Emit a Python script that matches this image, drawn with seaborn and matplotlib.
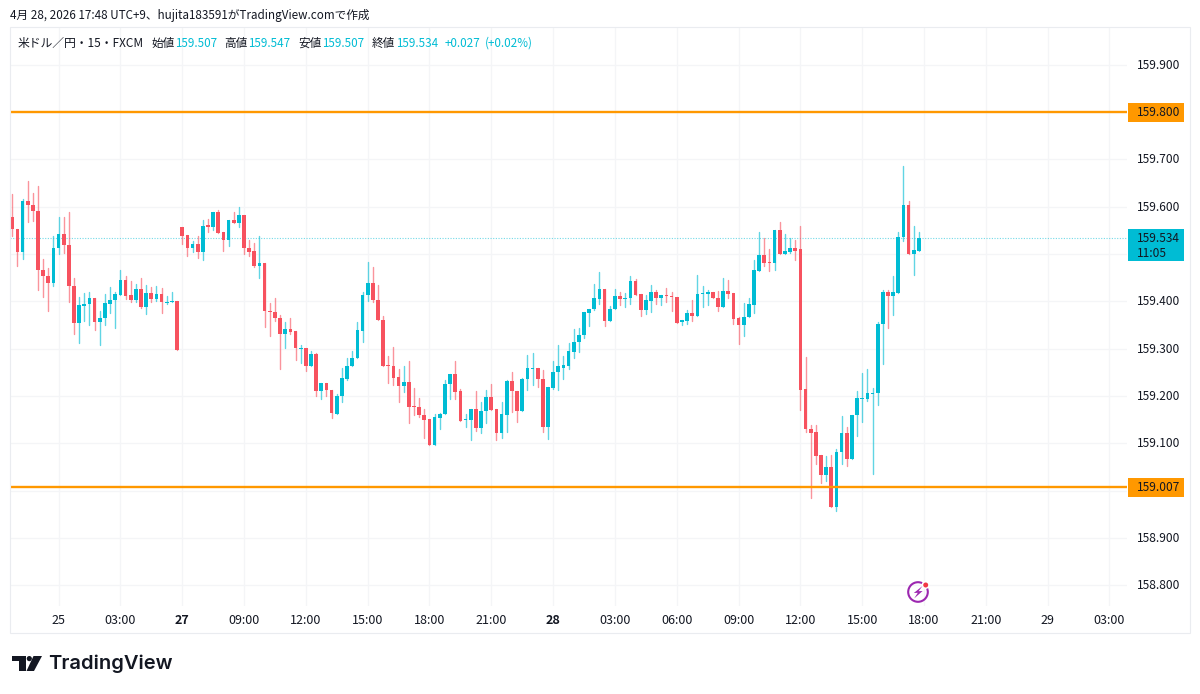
import numpy as np
import pandas as pd
import seaborn as sns
import matplotlib
matplotlib.use("Agg")
import matplotlib.pyplot as plt
from matplotlib.patches import Rectangle, Circle, Polygon
from matplotlib.transforms import blended_transform_factory, ScaledTranslation

# ---------------- data ----------------
opens = [159.579,159.553,159.505,159.613,159.603,159.591,159.466,159.453,159.439,159.513,
159.542,159.519,159.433,159.354,159.391,159.394,159.406,159.356,159.364,159.394,
159.403,159.413,159.446,159.413,159.403,159.426,159.388,159.418,159.405,159.415,
159.397,159.399,159.401,159.556,159.540,159.513,159.521,159.505,159.561,159.558,
159.589,159.546,159.530,159.572,159.566,159.582,159.513,159.506,159.474,159.482,
159.380,159.378,159.365,159.330,159.342,159.337,159.300,159.302,159.264,159.288,
159.211,159.227,159.213,159.163,159.201,159.236,159.263,159.280,159.338,159.413,
159.438,159.403,159.361,159.266,159.264,159.240,159.222,159.230,159.178,159.176,
159.159,159.151,159.096,159.154,159.161,159.225,159.247,159.211,159.149,159.150,
159.172,159.132,159.168,159.197,159.172,159.121,159.160,159.232,159.211,159.168,
159.235,159.258,159.260,159.236,159.135,159.216,159.250,159.260,159.263,159.294,
159.314,159.328,159.376,159.383,159.404,159.427,159.358,159.383,159.411,159.404,
159.407,159.444,159.415,159.381,159.401,159.420,159.406,159.413,159.412,159.410,
159.356,159.358,159.375,159.370,159.415,159.415,159.420,159.408,159.389,159.422,
159.417,159.364,159.351,159.366,159.393,159.465,159.497,159.484,159.480,159.550,
159.501,159.504,159.513,159.510,159.214,159.130,159.123,159.076,159.033,159.050,
158.966,159.081,159.121,159.067,159.159,159.194,159.194,159.205,159.206,159.352,
159.420,159.411,159.418,159.535,159.603,159.501,159.507]
highs = [159.627,159.553,159.616,159.654,159.628,159.644,159.489,159.471,159.539,159.579,
159.579,159.589,159.449,159.409,159.418,159.420,159.406,159.379,159.415,159.430,
159.420,159.466,159.454,159.443,159.437,159.450,159.434,159.430,159.432,159.428,
159.411,159.420,159.401,159.556,159.540,159.527,159.538,159.572,159.574,159.589,
159.593,159.547,159.572,159.588,159.599,159.582,159.530,159.523,159.537,159.482,
159.396,159.407,159.372,159.356,159.365,159.338,159.308,159.302,159.296,159.291,
159.227,159.227,159.213,159.204,159.260,159.280,159.296,159.357,159.420,159.484,
159.473,159.435,159.368,159.284,159.303,159.256,159.264,159.273,159.217,159.196,
159.173,159.151,159.163,159.164,159.234,159.247,159.273,159.215,159.163,159.173,
159.211,159.188,159.213,159.225,159.172,159.188,159.233,159.250,159.211,159.237,
159.287,159.291,159.260,159.254,159.218,159.274,159.308,159.285,159.312,159.341,
159.344,159.377,159.384,159.436,159.462,159.427,159.391,159.427,159.420,159.418,
159.453,159.447,159.415,159.413,159.435,159.423,159.413,159.428,159.419,159.410,
159.360,159.381,159.402,159.456,159.432,159.423,159.420,159.422,159.449,159.446,
159.418,159.367,159.397,159.408,159.487,159.546,159.533,159.510,159.550,159.568,
159.543,159.534,159.529,159.559,159.282,159.138,159.138,159.076,159.073,159.076,
159.088,159.158,159.135,159.160,159.211,159.248,159.256,159.216,159.357,159.424,
159.423,159.454,159.546,159.686,159.612,159.560,159.547]
lows = [159.537,159.475,159.489,159.568,159.570,159.424,159.410,159.380,159.432,159.500,
159.503,159.399,159.330,159.313,159.359,159.351,159.340,159.308,159.349,159.376,
159.344,159.413,159.405,159.399,159.399,159.386,159.374,159.399,159.401,159.375,
159.394,159.398,159.297,159.522,159.496,159.505,159.491,159.487,159.547,159.551,
159.544,159.506,159.517,159.565,159.556,159.500,159.496,159.473,159.449,159.345,
159.326,159.359,159.256,159.302,159.330,159.275,159.270,159.252,159.264,159.201,
159.194,159.199,159.153,159.161,159.187,159.234,159.263,159.280,159.314,159.400,
159.399,159.360,159.263,159.227,159.224,159.187,159.208,159.142,159.159,159.156,
159.111,159.096,159.096,159.131,159.161,159.194,159.194,159.148,159.134,159.106,
159.126,159.121,159.142,159.171,159.108,159.111,159.123,159.166,159.146,159.168,
159.213,159.224,159.218,159.124,159.109,159.215,159.213,159.235,159.258,159.280,
159.294,159.323,159.347,159.382,159.394,159.347,159.358,159.383,159.392,159.388,
159.394,159.413,159.368,159.373,159.377,159.395,159.392,159.399,159.380,159.355,
159.349,159.353,159.358,159.370,159.388,159.392,159.406,159.380,159.389,159.406,
159.353,159.309,159.326,159.366,159.375,159.465,159.475,159.465,159.467,159.501,
159.501,159.503,159.488,159.171,159.123,158.984,159.056,159.017,159.021,158.966,
158.958,159.056,159.053,159.067,159.116,159.144,159.189,159.035,159.181,159.268,
159.343,159.371,159.418,159.528,159.501,159.456,159.507]
closes = [159.553,159.505,159.613,159.603,159.590,159.466,159.453,159.439,159.513,159.542,
159.518,159.433,159.354,159.392,159.394,159.406,159.356,159.365,159.396,159.403,
159.415,159.446,159.412,159.402,159.426,159.388,159.417,159.405,159.415,159.398,
159.399,159.401,159.297,159.539,159.513,159.521,159.505,159.560,159.558,159.589,
159.544,159.530,159.572,159.565,159.582,159.513,159.505,159.474,159.481,159.379,
159.377,159.365,159.330,159.342,159.336,159.301,159.302,159.264,159.288,159.211,
159.227,159.212,159.164,159.201,159.237,159.264,159.281,159.339,159.414,159.438,
159.403,159.360,159.264,159.263,159.239,159.222,159.230,159.177,159.176,159.159,
159.149,159.096,159.155,159.163,159.226,159.247,159.209,159.148,159.152,159.173,
159.133,159.169,159.197,159.170,159.121,159.161,159.232,159.210,159.168,159.236,
159.260,159.260,159.235,159.135,159.218,159.251,159.263,159.265,159.295,159.315,
159.329,159.377,159.384,159.406,159.427,159.358,159.384,159.411,159.404,159.408,
159.444,159.413,159.381,159.402,159.419,159.406,159.413,159.411,159.409,159.355,
159.360,159.375,159.370,159.415,159.417,159.420,159.406,159.389,159.422,159.415,
159.363,159.351,159.367,159.394,159.467,159.497,159.482,159.481,159.550,159.501,
159.506,159.513,159.507,159.213,159.130,159.122,159.074,159.033,159.050,158.966,
159.082,159.121,159.067,159.160,159.196,159.196,159.207,159.207,159.353,159.420,
159.411,159.420,159.535,159.603,159.501,159.508,159.534]

x_tick_pos = [9,21,33,45,57,69,81,93,105,117,129,141,153,165,177,189,201,213]
x_tick_labels = ["25","03:00","27","09:00","12:00","15:00","18:00","21:00","28",
                 "03:00","06:00","09:00","12:00","15:00","18:00","21:00","29","03:00"]
x_bold_labels = ["27","28"]
y_ticks = [159.9,159.8,159.7,159.6,159.5,159.4,159.3,159.2,159.1,159.0,158.9,158.8]
y_hidden = [159.8,159.5,159.0]
levels = [159.800,159.007]
last_price = 159.534
countdown = "11:05"
legend_name = "米ドル／円・15・FXCM"
legend_fields = [("始値","159.507"),("高値","159.547"),("安値","159.507"),("終値","159.534")]
legend_change = "+0.027"
legend_pct = "(+0.02%)"
title = "4月 28, 2026 17:48 UTC+9、hujita183591がTradingView.comで作成"

UP = "#00BCD4"; DOWN = "#F7525F"; ORANGE = "#FF9800"; INK = "#131722"; GRID = "#F4F5F7"; FRAME = "#EAECF0"

# ---------------- figure ----------------
sns.set_theme(style="white")
plt.rcParams["font.family"] = ["Noto Sans CJK JP", "DejaVu Sans"]
W, H = 1200, 694
fig = plt.figure(figsize=(W/100, H/100), dpi=100, facecolor="white")
L, R, T, B = 10, 1127, 27, 606
ax = fig.add_axes([L/W, 1-B/H, (R-L)/W, (B-T)/H])
ax.set_facecolor("white")

df = pd.DataFrame({"i": np.arange(len(opens)), "o": opens, "h": highs, "l": lows, "c": closes})
df["dir"] = np.where(df.c >= df.o, "up", "down")
wicks = pd.concat([df.assign(price=df.h), df.assign(price=df.l)]).sort_values(["i", "price"])
sns.lineplot(data=wicks, x="i", y="price", units="i", estimator=None, hue="dir", sort=False,
             palette={"up": UP, "down": DOWN}, lw=1.0, alpha=0.62, legend=False, ax=ax, zorder=3)
ax.bar(df.i, (df.c-df.o).abs(), bottom=df[["o", "c"]].min(axis=1), width=0.72,
       color=df["dir"].map({"up": UP, "down": DOWN}), linewidth=0, zorder=4)

# ax limits so that the price scale and candle spacing agree with the reference
ax.set_xlim(-0.43, 216.4)
ax.set_ylim(158.7563, 159.9796)
ax.set_xlabel(""); ax.set_ylabel("")
for s in ax.spines.values():
    s.set_visible(False)
ax.set_xticks(x_tick_pos); ax.set_xticklabels(x_tick_labels)
ax.set_yticks(y_ticks)
ax.set_yticklabels(["" if v in y_hidden else f"{v:.3f}" for v in y_ticks])
ax.yaxis.tick_right()
ax.tick_params(axis="x", length=0, pad=6, labelsize=9.0, colors=INK)
ax.tick_params(axis="y", length=0, pad=7, labelsize=8.6, colors=INK)
for t in ax.get_xticklabels():
    if t.get_text() in x_bold_labels:
        t.set_fontweight("bold")
shift = ScaledTranslation(0, 1/100, fig.dpi_scale_trans)
for t in ax.get_yticklabels():
    t.set_transform(t.get_transform() + shift)
ax.grid(True, color=GRID, lw=0.9, zorder=0)
ax.set_axisbelow(True)

ax.axhline(last_price, color=UP, lw=0.8, alpha=0.55, ls=(0, (1, 1.4)), zorder=2)
for lv in levels:
    ax.axhline(lv, color=ORANGE, lw=1.7, zorder=5)

# price labels on the axis
trans = blended_transform_factory(ax.transAxes, ax.transData)
px = (R-L); py = (ax.get_ylim()[1]-ax.get_ylim()[0])/(B-T)
for lv in levels:
    ax.add_patch(Rectangle(((1128-L)/px, lv-9.5*py), 56/px, 19*py, transform=trans, fc=ORANGE, ec="none",
                           clip_on=False, zorder=6))
    ax.text((1137-L)/px, lv+py, f"{lv:.3f}", transform=trans, va="center_baseline", ha="left", fontsize=8.6,
            color=INK, clip_on=False, zorder=7)
ax.add_patch(Rectangle(((1128-L)/px, last_price-23.5*py), 56/px, 32*py, transform=trans, fc=UP, ec="none",
                       clip_on=False, zorder=6))
ax.text((1137-L)/px, last_price+py, f"{last_price:.3f}", transform=trans, va="center_baseline", ha="left",
        fontsize=8.6, color=INK, clip_on=False, zorder=7)
ax.text((1137-L)/px, last_price-14*py, countdown, transform=trans, va="center_baseline", ha="left",
        fontsize=8.6, color=INK, clip_on=False, zorder=7)

# overlay in pixel coordinates: frame, title, legend, logo, icon
ov = fig.add_axes([0, 0, 1, 1], zorder=10)
ov.set_xlim(0, W); ov.set_ylim(H, 0); ov.axis("off"); ov.patch.set_alpha(0)
ov.add_patch(Rectangle((10, 27), 1180, 606, fc="none", ec=FRAME, lw=0.8))
ov.text(10, 15, title, fontsize=8.4, color=INK, va="center", ha="left")
ov.text(18, 43, legend_name, fontsize=8.5, color=INK, va="center", ha="left")
for (lab, val), xl, xv in zip(legend_fields, [151, 224, 298, 372], [175, 248, 322, 396]):
    ov.text(xl, 43, lab, fontsize=8.4, color=INK, va="center", ha="left")
    ov.text(xv, 43, val, fontsize=8.4, color=UP, va="center", ha="left")
ov.text(445, 43, legend_change, fontsize=8.4, color=UP, va="center", ha="left")
ov.text(485, 43, legend_pct, fontsize=8.4, color=UP, va="center", ha="left")

LOGO = "#131722"
ov.add_patch(Polygon([(12, 656), (26, 656), (26, 671), (18.5, 671), (18.5, 661), (12, 661)], fc=LOGO, ec="none"))
ov.add_patch(Circle((29.3, 658.6), 2.6, fc=LOGO, ec="none"))
ov.add_patch(Polygon([(33.5, 656), (42, 656), (34, 671), (26.5, 671)], fc=LOGO, ec="none"))
ov.text(48, 664, "TradingView", fontsize=14.5, family="Inter", weight="semibold", color=LOGO, va="center", ha="left")

PURPLE = "#9C27B0"
ov.add_patch(Circle((918, 592), 9.8, fc="none", ec=PURPLE, lw=1.5))
ov.add_patch(Circle((925.5, 585), 4, fc="white", ec="none"))
ov.add_patch(Circle((925.7, 585), 2.5, fc="#F23645", ec="none"))
ov.add_patch(Polygon([(922.5, 586), (913.8, 593), (917.8, 592.8), (914.2, 598.4), (922.6, 591), (918.6, 591.2)],
                     fc=PURPLE, ec="none"))

fig.savefig("out.png", dpi=100, facecolor="white")
